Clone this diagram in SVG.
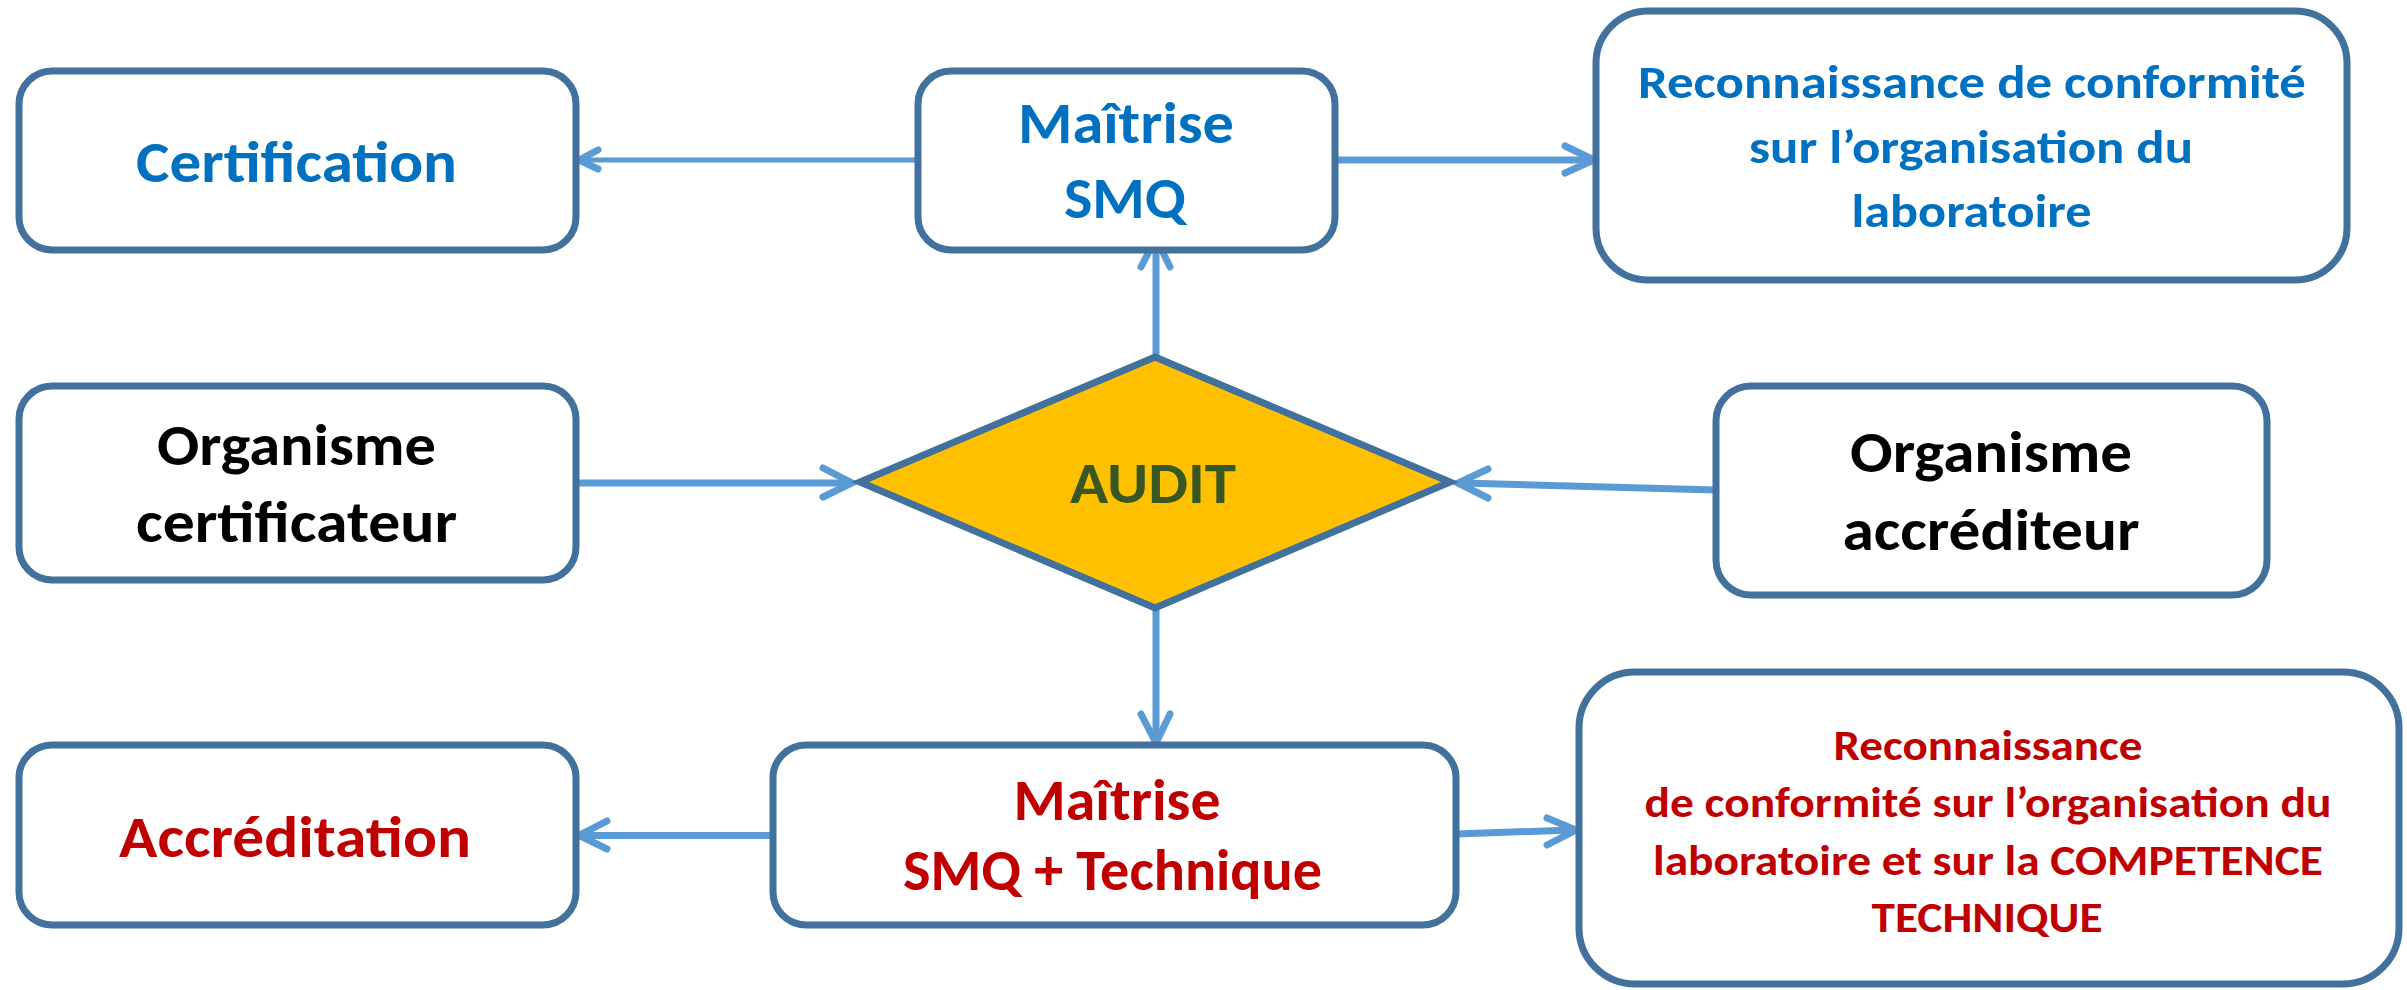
<svg xmlns="http://www.w3.org/2000/svg" width="2407" height="990" viewBox="0 0 2407 990">
<style>
.box{fill:#fff;stroke:#41719C;stroke-width:7}
.dia{fill:#FFC000;stroke:#41719C;stroke-width:7;stroke-linejoin:miter}
.ln{fill:none;stroke:#5B9BD5;stroke-width:7}
.thin{stroke-width:5}
.head{fill:none;stroke:#5B9BD5;stroke-width:7;stroke-linecap:round;stroke-linejoin:miter}
text{font-family:Carlito,Lato,"Liberation Sans",sans-serif;font-weight:bold;text-anchor:middle}
.big{font-size:59px}
.mid{font-size:47px}
.sm{font-size:42px}
.blue{fill:#0070C0}
.red{fill:#C00000}
.blk{fill:#000}
.grn{fill:#385723}
</style>
<rect width="2407" height="990" fill="#fff"/>
<g id="connectors">
<line class="ln thin" x1="918" y1="160" x2="582" y2="160"/>
<polyline class="head" points="598,150 579,160 598,169"/>
<line class="ln" x1="1335" y1="160" x2="1590" y2="160"/>
<polyline class="head" points="1565,146 1594,160 1565,173"/>
<line class="ln" x1="1156" y1="355" x2="1156" y2="242"/>
<polyline class="head" points="1141,267 1156,238 1170,267"/>
<line class="ln" x1="576" y1="483" x2="848" y2="483"/>
<polyline class="head" points="823,468 852,483 823,497"/>
<line class="ln" x1="1716" y1="490" x2="1462" y2="483"/>
<polyline class="head" points="1488,469 1458,483 1488,498"/>
<line class="ln" x1="1156" y1="610" x2="1156" y2="740"/>
<polyline class="head" points="1141,714 1156,743 1170,714"/>
<line class="ln" x1="773" y1="835.5" x2="583" y2="835.5"/>
<polyline class="head" points="607,821 579,835.5 607,849"/>
<line class="ln" x1="1456" y1="834" x2="1573" y2="830"/>
<polyline class="head" points="1547,818 1576,830 1547,845"/>
</g>
<g id="certification">
<rect class="box" x="19" y="71" width="557" height="179" rx="33"/>
<text class="big blue" x="296.5" y="182" textLength="321" lengthAdjust="spacingAndGlyphs">Certification</text>
</g>
<g id="maitrise-smq">
<rect class="box" x="918" y="71" width="417" height="179" rx="33"/>
<text class="big blue" x="1126" y="143" textLength="216" lengthAdjust="spacingAndGlyphs">Maîtrise</text>
<text class="big blue" x="1125" y="218" textLength="122" lengthAdjust="spacingAndGlyphs">SMQ</text>
</g>
<g id="reconnaissance-org">
<rect class="box" x="1596" y="11" width="751" height="269" rx="52"/>
<text class="mid blue" x="1972" y="98" textLength="668" lengthAdjust="spacingAndGlyphs">Reconnaissance de conformité</text>
<text class="mid blue" x="1971" y="163" textLength="444" lengthAdjust="spacingAndGlyphs">sur l’organisation du</text>
<text class="mid blue" x="1971.5" y="227" textLength="240" lengthAdjust="spacingAndGlyphs">laboratoire</text>
</g>
<g id="organisme-certificateur">
<rect class="box" x="19" y="386" width="557" height="194" rx="33"/>
<text class="big blk" x="296.5" y="465" textLength="279" lengthAdjust="spacingAndGlyphs">Organisme</text>
<text class="big blk" x="296.5" y="542" textLength="321" lengthAdjust="spacingAndGlyphs">certificateur</text>
</g>
<g id="audit">
<polygon class="dia" points="1155,357 1450,482 1155,608 860,482"/>
<text class="big grn" x="1153" y="503" textLength="166" lengthAdjust="spacingAndGlyphs">AUDIT</text>
</g>
<g id="organisme-accrediteur">
<rect class="box" x="1716" y="386" width="551" height="209" rx="35"/>
<text class="big blk" x="1991" y="472" textLength="282" lengthAdjust="spacingAndGlyphs">Organisme</text>
<text class="big blk" x="1991" y="550" textLength="297" lengthAdjust="spacingAndGlyphs">accréditeur</text>
</g>
<g id="accreditation">
<rect class="box" x="19" y="745" width="557" height="180" rx="33"/>
<text class="big red" x="295" y="857" textLength="352" lengthAdjust="spacingAndGlyphs">Accréditation</text>
</g>
<g id="maitrise-smq-technique">
<rect class="box" x="773" y="745" width="683" height="180" rx="33"/>
<text class="big red" x="1117" y="820" textLength="207" lengthAdjust="spacingAndGlyphs">Maîtrise</text>
<text class="big red" x="1112.5" y="890" textLength="419" lengthAdjust="spacingAndGlyphs">SMQ + Technique</text>
</g>
<g id="reconnaissance-competence">
<rect class="box" x="1579" y="672" width="820" height="312" rx="56"/>
<text class="sm red" x="1988" y="760" textLength="309" lengthAdjust="spacingAndGlyphs">Reconnaissance</text>
<text class="sm red" x="1988" y="817" textLength="687" lengthAdjust="spacingAndGlyphs">de conformité sur l’organisation du</text>
<text class="sm red" x="1988" y="875" textLength="670" lengthAdjust="spacingAndGlyphs">laboratoire et sur la COMPETENCE</text>
<text class="sm red" x="1987" y="932" textLength="231" lengthAdjust="spacingAndGlyphs">TECHNIQUE</text>
</g>
</svg>
